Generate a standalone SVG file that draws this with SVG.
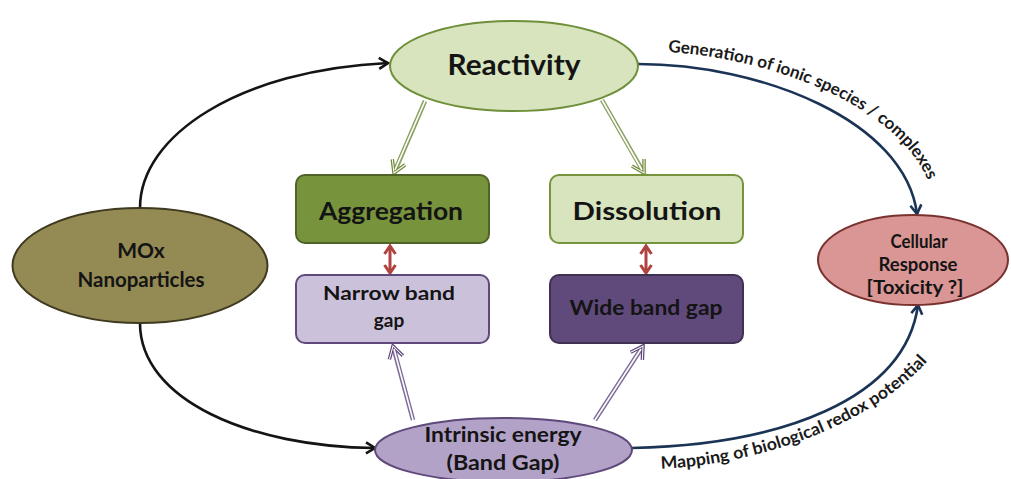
<svg xmlns="http://www.w3.org/2000/svg" width="1011" height="479" viewBox="0 0 1011 479">
<style>
.lbl{font-family:Lato,"Liberation Sans",sans-serif;font-weight:700;fill:#141414;text-anchor:middle}
.cap{font-family:Lato,"Liberation Sans",sans-serif;font-weight:700;fill:#1a1a1a;font-size:17px}
.crv{fill:none;stroke-width:2.6}
.blk{stroke:#141414}
.nav{stroke:#1b3455}
.dg{fill:none;stroke:#8aa060;stroke-width:4.5}
.dp{fill:none;stroke:#7d6a98;stroke-width:4.5}
.inner{fill:none;stroke:#ffffff;stroke-width:1.6}
.red{fill:none;stroke:#b0433f;stroke-width:3}
</style>
<defs>
<marker id="mBlk" markerUnits="userSpaceOnUse" markerWidth="16" markerHeight="16" refX="10" refY="6" orient="auto" overflow="visible">
<path d="M1,0.5 L10,6 L1,11.5" fill="none" stroke="#141414" stroke-width="2.6" stroke-linejoin="miter"/>
</marker>
<marker id="mNav" markerUnits="userSpaceOnUse" markerWidth="16" markerHeight="16" refX="10" refY="6" orient="auto" overflow="visible">
<path d="M1,0.5 L10,6 L1,11.5" fill="none" stroke="#1b3455" stroke-width="2.6"/>
</marker>
<marker id="mGrn" markerUnits="userSpaceOnUse" markerWidth="20" markerHeight="20" refX="13" refY="8" orient="auto" overflow="visible">
<path d="M1,1 L13,8 L1,15" fill="none" stroke="#6f8a3c" stroke-width="3.5"/>
<path d="M1,1 L13,8 L1,15" fill="none" stroke="#ffffff" stroke-width="1"/>
</marker>
<marker id="mPur" markerUnits="userSpaceOnUse" markerWidth="20" markerHeight="20" refX="13" refY="8" orient="auto" overflow="visible">
<path d="M1,1 L13,8 L1,15" fill="none" stroke="#5f497a" stroke-width="3.5"/>
<path d="M1,1 L13,8 L1,15" fill="none" stroke="#ffffff" stroke-width="1"/>
</marker>
<marker id="mRed" markerUnits="userSpaceOnUse" markerWidth="14" markerHeight="14" refX="9" refY="6" orient="auto-start-reverse" overflow="visible">
<path d="M1,0.5 L9,6 L1,11.5" fill="none" stroke="#b0433f" stroke-width="3"/>
</marker>
<path id="tpTop" d="M640,51 C768,51 923,112 935,206"/>
<path id="tpBot" d="M655,469 C760,466 884,422 939,347"/>
</defs>

<g id="connectors">
<path class="crv blk" d="M140,208 C140,135 240,70 388,63" marker-end="url(#mBlk)"/>
<path class="crv blk" d="M140,323 C140,400 250,447 375,448" marker-end="url(#mBlk)"/>
<path class="crv nav" d="M638,64 C760,64 905,120 917,214" marker-end="url(#mNav)"/>
<path class="crv nav" d="M632,448 C780,445 905,400 918,305" marker-end="url(#mNav)"/>
<path class="dg" d="M425,101 L394,173" marker-end="url(#mGrn)"/>
<path class="inner" d="M425,101 L395,170"/>
<path class="dg" d="M602,100 L644,173" marker-end="url(#mGrn)"/>
<path class="inner" d="M602,100 L642,170"/>
<path class="dp" d="M413,420 L393,346" marker-end="url(#mPur)"/>
<path class="inner" d="M413,420 L394,349"/>
<path class="dp" d="M595,420 L643,346" marker-end="url(#mPur)"/>
<path class="inner" d="M595,420 L641,349"/>
<path class="red" d="M390,246 L390,273" marker-start="url(#mRed)" marker-end="url(#mRed)"/>
<path class="red" d="M646,246 L646,273" marker-start="url(#mRed)" marker-end="url(#mRed)"/>
<text class="cap"><textPath href="#tpTop" startOffset="28" textLength="302" lengthAdjust="spacingAndGlyphs">Generation of ionic species / complexes</textPath></text>
<text class="cap"><textPath href="#tpBot" startOffset="6" textLength="294" lengthAdjust="spacingAndGlyphs">Mapping of biological redox potential</textPath></text>
</g>

<g id="reactivity">
<ellipse cx="514" cy="66" rx="124" ry="45" fill="#d7e4bd" stroke="#6f8f3a" stroke-width="2"/>
<text class="lbl" x="514" y="75" font-size="28" textLength="133" lengthAdjust="spacingAndGlyphs">Reactivity</text>
</g>

<g id="mox">
<ellipse cx="140" cy="265.5" rx="127.5" ry="57.5" fill="#948a54" stroke="#3f3a1f" stroke-width="2"/>
<text class="lbl" x="141" y="258" font-size="21">MOx</text>
<text class="lbl" x="141" y="287" font-size="21" textLength="127" lengthAdjust="spacingAndGlyphs">Nanoparticles</text>
</g>

<g id="aggregation">
<rect x="296" y="175" width="193" height="68" rx="9" fill="#77933c" stroke="#4f6228" stroke-width="2"/>
<text class="lbl" x="391" y="220" font-size="24" textLength="144" lengthAdjust="spacingAndGlyphs">Aggregation</text>
</g>

<g id="dissolution">
<rect x="550" y="175" width="193" height="68" rx="9" fill="#d7e4bd" stroke="#77933c" stroke-width="2"/>
<text class="lbl" x="647" y="220" font-size="25" textLength="149" lengthAdjust="spacingAndGlyphs">Dissolution</text>
</g>

<g id="narrow">
<rect x="296" y="275" width="193" height="68" rx="9" fill="#ccc1da" stroke="#5f497a" stroke-width="2"/>
<text class="lbl" x="389" y="300" font-size="19" textLength="132" lengthAdjust="spacingAndGlyphs">Narrow band</text>
<text class="lbl" x="389" y="327" font-size="19">gap</text>
</g>

<g id="wide">
<rect x="550" y="275" width="193" height="68" rx="9" fill="#604a7b" stroke="#3f3151" stroke-width="2"/>
<text class="lbl" x="646" y="315" font-size="21" textLength="153" lengthAdjust="spacingAndGlyphs">Wide band gap</text>
</g>

<g id="cellular">
<ellipse cx="913" cy="260" rx="95" ry="45" fill="#d99694" stroke="#7a3230" stroke-width="2"/>
<text class="lbl" x="919" y="248" font-size="19" textLength="57" lengthAdjust="spacingAndGlyphs">Cellular</text>
<text class="lbl" x="918" y="271" font-size="19" textLength="79" lengthAdjust="spacingAndGlyphs">Response</text>
<text class="lbl" x="915" y="294" font-size="19" textLength="97" lengthAdjust="spacingAndGlyphs">[Toxicity ?]</text>
</g>

<g id="intrinsic">
<ellipse cx="503.5" cy="450" rx="128.5" ry="32" fill="#b3a2c7" stroke="#5f497a" stroke-width="2"/>
<text class="lbl" x="503" y="442" font-size="21" textLength="157" lengthAdjust="spacingAndGlyphs">Intrinsic energy</text>
<text class="lbl" x="503" y="470" font-size="21" textLength="113" lengthAdjust="spacingAndGlyphs">(Band Gap)</text>
</g>
</svg>
